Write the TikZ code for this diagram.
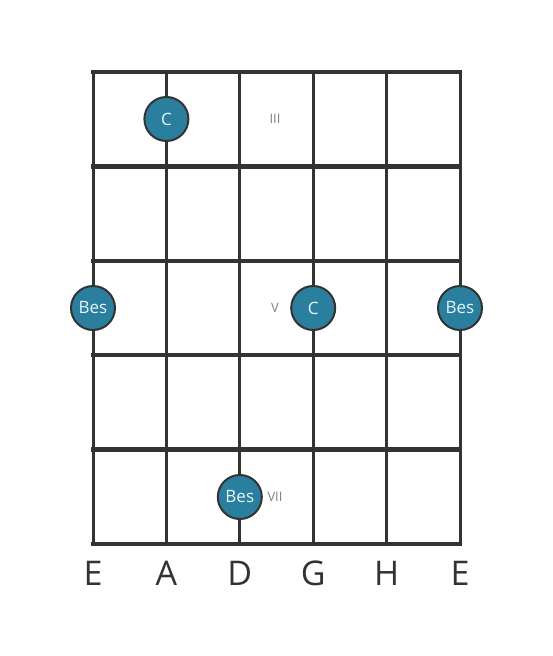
\documentclass[tikz,border=0pt]{standalone}
\usepackage{fontspec}
\setmainfont{Open Sans}
\usetikzlibrary{positioning}
\definecolor{dotblue}{HTML}{2B7F9E}
\definecolor{linegray}{HTML}{333333}
\definecolor{fretgray}{HTML}{808080}
\definecolor{notetext}{HTML}{E6F6FA}

\begin{document}
\begin{tikzpicture}[x=1pt,y=-1pt]
					\tikzstyle{string}=[draw=linegray,line width=3pt]
					\tikzstyle{fret}=[draw=linegray,line width=4.5pt]
					\tikzstyle{note}=[circle,fill=dotblue,draw=linegray,line width=2pt,minimum size=44pt,inner sep=0pt,text=notetext,font=\fontsize{17}{17}\selectfont]
					\tikzstyle{fretno}=[text=fretgray,font=\fontsize{13}{13}\selectfont]
					\tikzstyle{tuning}=[text=linegray,font=\fontsize{34}{34}\selectfont]
					\useasboundingbox (0,0) rectangle (553,656);
					
					\foreach \s/\x in {1/93,2/166.4,3/239.8,4/313.2,5/386.6,6/460}
					{\coordinate (s\s top) at (\x,72); \coordinate (s\s bot) at (\x,544);
					 \draw[string] (s\s top) -- (s\s bot);}
					\foreach \f/\y in {0/72,1/166.4,2/260.8,3/355.2,4/449.6,5/544}
					{\coordinate (f\f l) at (93,\y); \coordinate (f\f r) at (460,\y);
					 \draw[fret,line cap=rect] (f\f l) -- (f\f r);}
					
					\node[note] (c3) at (166.4,119) {C};
					\node[note] (bes5e) at (93,308) {Bes};
					\node[note] (c5) at (313.2,308) {C};
					\node[note] (bes5h) at (460,308) {Bes};
					\node[note] (bes7) at (239.8,497) {Bes};
					
					\node[fretno] (III) at (275,119) {III};
					\node[fretno] (V) at (275,308) {V};
					\node[fretno] (VII) at (275,497) {VII};
					
					\node[tuning] (tE) at (93,573) {E};
					\node[tuning] (tA) at (166.4,573) {A};
					\node[tuning] (tD) at (239.8,573) {D};
					\node[tuning] (tG) at (313.2,573) {G};
					\node[tuning] (tH) at (386.6,573) {H};
					\node[tuning] (te) at (460,573) {E};
					
					\end{tikzpicture}
\end{document}
